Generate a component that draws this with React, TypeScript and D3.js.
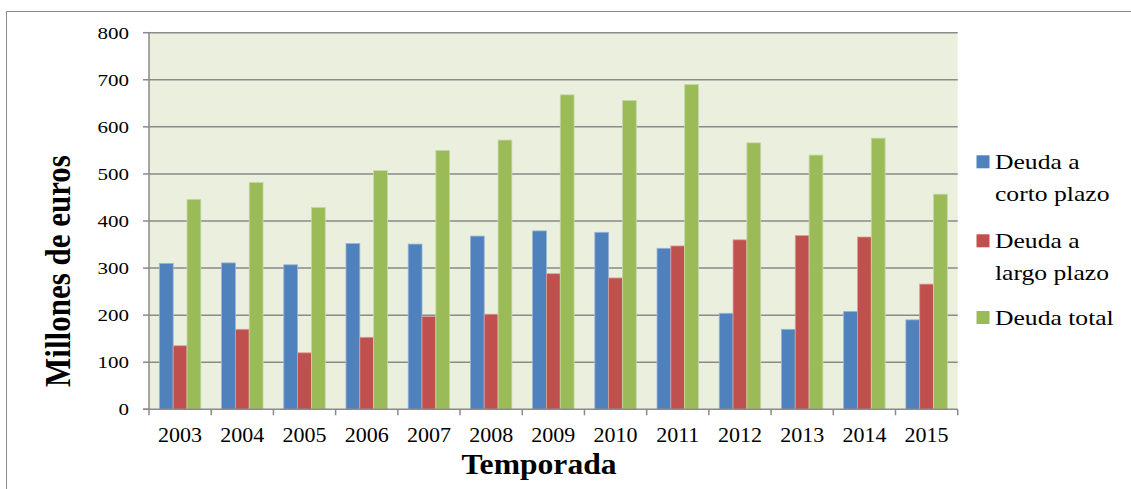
import React from "react";
import * as d3 from "d3";

const years = ["2003","2004","2005","2006","2007","2008","2009","2010","2011","2012","2013","2014","2015"];
const deudaCorto = [310, 311, 307, 352, 351, 368, 379, 376, 342, 204, 170, 208, 190];
const deudaLargo = [135, 170, 120, 153, 197, 202, 288, 279, 347, 360, 369, 366, 266];
const deudaTotal = [446, 482, 429, 507, 550, 572, 668, 656, 690, 566, 540, 576, 457];
const yTicks = [0, 100, 200, 300, 400, 500, 600, 700, 800];
const seriesNames = ["Deuda a corto plazo", "Deuda a largo plazo", "Deuda total"];
const legendLines = [["Deuda a", "corto plazo"], ["Deuda a", "largo plazo"], ["Deuda total"]];
const colors = ["#4F81BD", "#C0504D", "#9BBB59"];
const strokes = ["#9bb5d8", "#dc9d9b", "#c6d9a6"];

const W = 1131, H = 489;
const plot = { left: 149, right: 957.7, top: 32.7, bottom: 409.3 };
const FONT = "Liberation Serif";
const tStyle = { fontFamily: FONT };

export default function App() {
  const series = [deudaCorto, deudaLargo, deudaTotal];
  const x = d3.scaleBand<string>().domain(years).range([plot.left, plot.right]).paddingInner(0).paddingOuter(0);
  const xi = d3.scaleBand<number>().domain([0, 1, 2]).range([0, x.bandwidth()]).paddingInner(0).paddingOuter(0.75);
  const y = d3.scaleLinear().domain([0, 800]).range([plot.bottom, plot.top]);
  const sx = 1.2;

  return (
    <svg width={W} height={H} style={{ position: "absolute", left: 0, top: 0 }}>
      <rect x={0} y={0} width={W} height={H} fill="#ffffff" />
      <path d={`M6.5,${H + 2} V11.5 H${W + 2}`} fill="none" stroke="#8c8c8c" strokeWidth={1} />
      <rect x={plot.left} y={plot.top} width={plot.right - plot.left} height={plot.bottom - plot.top} fill="#EBF0DE" />
      {yTicks.map((t) => (
        <g key={t}>
          {t > 0 && (
            <line x1={plot.left} x2={plot.right} y1={y(t)} y2={y(t)} stroke="#8a8a8a" strokeWidth={1.5} />
          )}
          <line x1={plot.left - 6} x2={plot.left} y1={y(t)} y2={y(t)} stroke="#8a8a8a" strokeWidth={1.5} />
          <text
            transform={`translate(129,${y(t) + 6}) scale(${sx},1)`}
            textAnchor="end"
            fontSize={17.5}
            fill="#000"
            style={tStyle}
          >
            {t}
          </text>
        </g>
      ))}
      {years.map((yr, i) => (
        <g key={yr}>
          {series.map((s, k) => (
            <rect
              key={k}
              x={(x(yr) as number) + (xi(k) as number)}
              y={y(s[i])}
              width={xi.bandwidth()}
              height={y(0) - y(s[i])}
              fill={colors[k]}
              stroke={strokes[k]}
              strokeWidth={0.8}
            />
          ))}
        </g>
      ))}
      <line x1={plot.left} x2={plot.left} y1={plot.top} y2={plot.bottom} stroke="#8a8a8a" strokeWidth={1.5} />
      <line x1={plot.left - 6} x2={plot.right} y1={plot.bottom} y2={plot.bottom} stroke="#8a8a8a" strokeWidth={1.5} />
      {[...years.map((yr) => x(yr) as number), plot.right].map((px, i) => (
        <line key={i} x1={px} x2={px} y1={plot.bottom} y2={plot.bottom + 6} stroke="#8a8a8a" strokeWidth={1.5} />
      ))}
      {years.map((yr) => (
        <text
          key={yr}
          transform={`translate(${(x(yr) as number) + x.bandwidth() / 2},441.5) scale(1.1,1)`}
          textAnchor="middle"
          fontSize={20}
          fill="#000"
          style={tStyle}
        >
          {yr}
        </text>
      ))}
      <text
        transform={`translate(539,473.5) scale(1.09,1)`}
        textAnchor="middle"
        fontSize={29}
        fontWeight="bold"
        fill="#000"
        style={tStyle}
      >
        Temporada
      </text>
      <text
        transform={`translate(70,271) scale(1.15,1) rotate(-90)`}
        textAnchor="middle"
        fontSize={31}
        fontWeight="bold"
        fill="#000"
        style={tStyle}
      >
        Millones de euros
      </text>
      {seriesNames.map((name, k) => {
        const base = [169.3, 248.3, 325][k];
        return (
          <g key={name}>
            <rect x={976.5} y={base - 14} width={13} height={13} fill={colors[k]} />
            {legendLines[k].map((ln, j) => (
              <text
                key={j}
                transform={`translate(995,${base + j * 31.5}) scale(1.22,1)`}
                fontSize={21}
                fill="#000"
                style={tStyle}
              >
                {ln}
              </text>
            ))}
          </g>
        );
      })}
    </svg>
  );
}
